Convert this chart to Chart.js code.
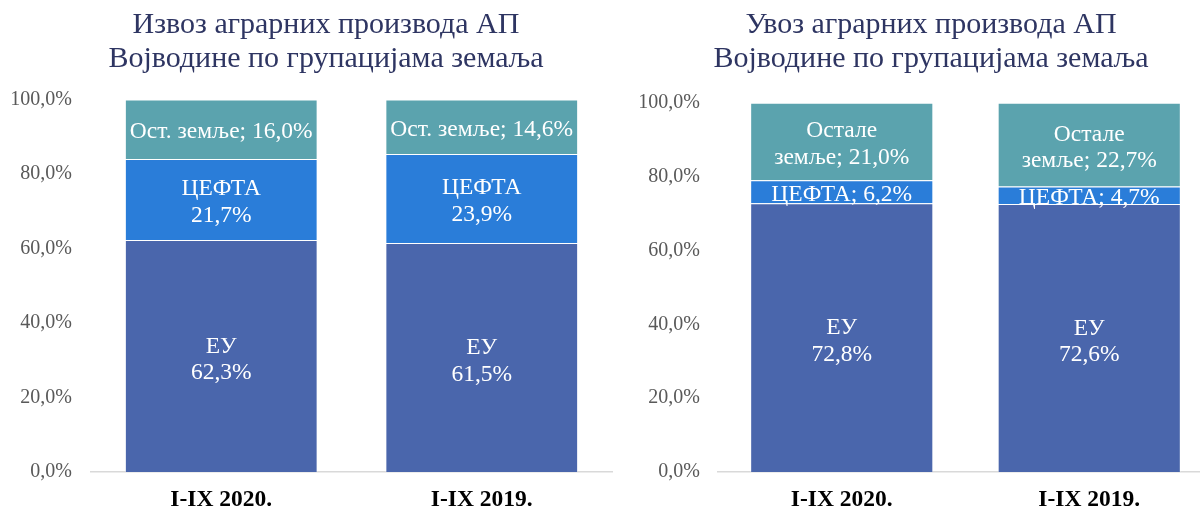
<!DOCTYPE html>
<html>
<head>
<meta charset="utf-8">
<script src="https://cdn.jsdelivr.net/npm/chart.js@4/dist/chart.umd.min.js"></script>
<style>
  html, body { margin: 0; padding: 0; background: #fff; width: 1200px; height: 509px; overflow: hidden; position: relative; }
  canvas { position: absolute; top: 0; }
  #c1 { left: 0; }
  #c2 { left: 620px; }
</style>
</head>
<body>
<canvas id="c1" width="652" height="509"></canvas>
<canvas id="c2" width="622" height="509"></canvas>
<script>
// ---- data ----
const categories = ['I-IX 2020.', 'I-IX 2019.'];
const seriesNames = ['ЕУ', 'ЦЕФТА', 'Остале земље'];

const exportEU = [62.3, 61.5];
const exportCEFTA = [21.7, 23.9];
const exportOther = [16.0, 14.6];

const importEU = [72.8, 72.6];
const importCEFTA = [6.2, 4.7];
const importOther = [21.0, 22.7];

const exportTitle = ['Извоз аграрних производа АП', 'Војводине по групацијама земаља'];
const importTitle = ['Увоз аграрних производа АП', 'Војводине по групацијама земаља'];

const fmt = v => v.toFixed(1).replace('.', ',') + '%';

// label texts per series (lines)
const exportLabels = [
  v => ['ЕУ', fmt(v)],
  v => ['ЦЕФТА', fmt(v)],
  v => ['Ост. земље; ' + fmt(v)]
];
const importLabels = [
  v => ['ЕУ', fmt(v)],
  v => ['ЦЕФТА; ' + fmt(v)],
  v => ['Остале', 'земље; ' + fmt(v)]
];

const colors = ['#4A66AC', '#2A7DD9', '#5BA3AE'];
const FONT = '"Liberation Serif", "Times New Roman", serif';

const barLabelPlugin = {
  id: 'barLabels',
  afterDatasetsDraw(chart, args, opts) {
    const ctx = chart.ctx;
    ctx.save();
    ctx.fillStyle = '#FFFFFF';
    ctx.font = opts.fontSize + 'px ' + FONT;
    ctx.textAlign = 'center';
    ctx.textBaseline = 'middle';
    chart.data.datasets.forEach((ds, di) => {
      const meta = chart.getDatasetMeta(di);
      meta.data.forEach((el, i) => {
        const lines = opts.labels[di](ds.data[i]);
        const cy = (el.y + el.base) / 2 + (opts.shift ? opts.shift[di] : 0);
        const lh = opts.lineHeight;
        const start = cy - (lines.length - 1) * lh / 2;
        lines.forEach((t, k) => ctx.fillText(t, el.x, start + k * lh));
      });
    });
    ctx.restore();
  }
};

const titlePlugin = {
  id: 'twoLineTitle',
  afterDraw(chart, args, opts) {
    const ctx = chart.ctx;
    ctx.save();
    ctx.fillStyle = opts.color;
    ctx.font = opts.size + 'px ' + FONT;
    ctx.textAlign = 'center';
    ctx.textBaseline = 'alphabetic';
    opts.text.forEach((t, k) => ctx.fillText(t, chart.width / 2, opts.firstBaseline + k * opts.lineHeight));
    ctx.restore();
  }
};

function makeChart(id, title, eu, cefta, other, labelFns, cfg) {
  const data = {
    labels: categories,
    datasets: [eu, cefta, other].map((d, i) => ({
      label: seriesNames[i],
      data: d,
      backgroundColor: colors[i],
      borderColor: 'rgba(255,255,255,0.35)',
      borderWidth: 1,
      barPercentage: 0.74,
      categoryPercentage: 1.0
    }))
  };
  return new Chart(document.getElementById(id), {
    type: 'bar',
    data,
    plugins: [barLabelPlugin, titlePlugin],
    options: {
      responsive: false,
      animation: false,
      devicePixelRatio: 1,
      layout: { padding: { left: 0, right: cfg.padR, top: cfg.padTop, bottom: 0 } },
      plugins: {
        legend: { display: false },
        tooltip: { enabled: false },
        title: { display: false },
        twoLineTitle: { text: title, color: '#2E3562', size: 30, firstBaseline: 33, lineHeight: 34 },
        barLabels: { labels: labelFns, fontSize: 23.5, lineHeight: 26.5, shift: [4, 3, 3] }
      },
      scales: {
        x: {
          stacked: true,
          grid: { display: false, drawTicks: false },
          border: { display: true, color: '#D9D9D9', width: 1.5 },
          ticks: { color: '#000000', padding: 13.5, font: { family: FONT, size: 23.5, weight: 'bold' } },
          afterFit(scale) { scale.height = 37; }
        },
        y: {
          stacked: true,
          min: 0,
          max: 100,
          ticks: {
            stepSize: 20,
            color: '#595959',
            padding: cfg.tickPad,
            font: { family: FONT, size: 20 },
            callback: v => fmt(v)
          },
          grid: { display: false, drawTicks: false },
          border: { display: false },
          afterFit(scale) { scale.width = cfg.yWidth; }
        }
      }
    }
  });
}

makeChart('c1', exportTitle, exportEU, exportCEFTA, exportOther, exportLabels,
  { padR: 40, yWidth: 91, tickPad: 19, padTop: 99.5 });
makeChart('c2', importTitle, importEU, importCEFTA, importOther, importLabels,
  { padR: 29, yWidth: 98, tickPad: 18, padTop: 102.7 });
</script>
</body>
</html>
